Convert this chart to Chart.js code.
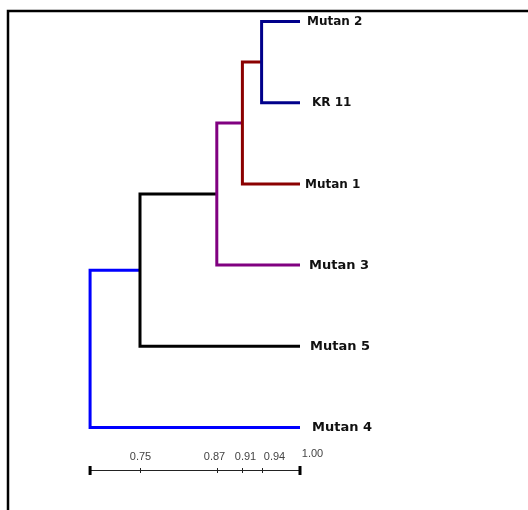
<!DOCTYPE html>
<html><head><meta charset="utf-8">
<script src="https://cdn.jsdelivr.net/npm/chart.js@4/dist/chart.umd.min.js"></script>
<style>html,body{margin:0;padding:0;background:#fff;} canvas{display:block;}</style>
</head><body>
<canvas id="c" width="528" height="510"></canvas>
<script>
// ---- data ----
const leafNames = ['Mutan 2', 'KR 11', 'Mutan 1', 'Mutan 3', 'Mutan 5', 'Mutan 4'];
const leafSimilarity = 1.00;
// merges: node ids 0-5 are leaves, 6.. are clusters in merge order
const mergeLeft = [0, 6, 7, 8, 9];
const mergeRight = [1, 2, 3, 4, 5];
const mergeSimilarity = [0.94, 0.91, 0.87, 0.75, 0.672];
const tickValues = [0.75, 0.87, 0.91, 0.94, 1.00];
const tickLabels = ['0.75', '0.87', '0.91', '0.94', '1.00'];

// ---- styles ----
const mergeColors = ['#00008b', '#8b0000', '#800080', '#000000', '#0000ff'];
const leafFontSize = [12, 12, 12, 13, 13, 13];
const leafLabelDx = [7, 12, 5, 9, 10, 12];
const tickLabelDx = [0, -3, 3, 12, 12];
const tickLabelDy = [0, 0, 0, 0, -3];

// ---- build tree geometry in data space ----
const nodeX = leafNames.map(() => leafSimilarity);
const nodeY = leafNames.map((_, i) => i);
const datasets = [];
mergeLeft.forEach((a, k) => {
  const b = mergeRight[k], s = mergeSimilarity[k];
  datasets.push({
    data: [{x: nodeX[a], y: nodeY[a]}, {x: s, y: nodeY[a]}, {x: s, y: nodeY[b]}, {x: nodeX[b], y: nodeY[b]}],
    borderColor: mergeColors[k],
    borderWidth: 3,
    pointRadius: 0,
    tension: 0,
    fill: false,
    borderJoinStyle: 'miter',
    borderCapStyle: 'butt',
    clip: false
  });
  nodeX.push(s);
  nodeY.push((nodeY[a] + nodeY[b]) / 2);
});

const decor = {
  id: 'decor',
  afterDraw(chart) {
    const ctx = chart.ctx, xs = chart.scales.x, ys = chart.scales.y;
    ctx.save();
    // frame
    ctx.strokeStyle = '#000';
    ctx.lineWidth = 2.5;
    ctx.beginPath();
    ctx.moveTo(8, 510); ctx.lineTo(8, 11); ctx.lineTo(528, 11);
    ctx.stroke();
    // leaf labels
    ctx.fillStyle = '#111';
    ctx.textAlign = 'left';
    ctx.textBaseline = 'middle';
    leafNames.forEach((n, i) => {
      ctx.font = 'bold ' + leafFontSize[i] + 'px "DejaVu Sans"';
      ctx.fillText(n, xs.getPixelForValue(leafSimilarity) + leafLabelDx[i], ys.getPixelForValue(i) + 0.5);
    });
    // scale bar
    const yb = 470;
    const x0 = xs.getPixelForValue(mergeSimilarity[mergeSimilarity.length - 1]);
    const x1 = xs.getPixelForValue(tickValues[tickValues.length - 1]);
    ctx.strokeStyle = '#222';
    ctx.lineWidth = 1;
    ctx.beginPath(); ctx.moveTo(x0, yb + 0.5); ctx.lineTo(x1, yb + 0.5); ctx.stroke();
    ctx.fillStyle = '#000';
    ctx.fillRect(x0 - 1.5, yb - 4, 3, 9);
    ctx.fillRect(x1 - 1.5, yb - 4, 3, 9);
    ctx.font = '11px "Liberation Sans"';
    ctx.textAlign = 'center';
    ctx.textBaseline = 'alphabetic';
    tickValues.forEach((v, i) => {
      const px = Math.round(xs.getPixelForValue(v)) + 0.5;
      if (i < tickValues.length - 1) {
        ctx.strokeStyle = '#222';
        ctx.beginPath(); ctx.moveTo(px, yb - 2); ctx.lineTo(px, yb + 3); ctx.stroke();
      }
      ctx.fillStyle = '#444';
      ctx.fillText(tickLabels[i], px + tickLabelDx[i], 460 + tickLabelDy[i]);
    });
    ctx.restore();
  }
};

new Chart(document.getElementById('c'), {
  type: 'line',
  data: { datasets },
  options: {
    responsive: false,
    animation: false,
    devicePixelRatio: 1,
    parsing: true,
    layout: { padding: 0 },
    plugins: { legend: { display: false }, tooltip: { enabled: false } },
    scales: {
      x: { type: 'linear', min: 0.53125, max: 1.35625, display: false },
      y: { type: 'linear', reverse: true, min: -21.5 / 81.2, max: (510 - 21.5) / 81.2, display: false }
    }
  },
  plugins: [decor]
});
</script>
</body></html>
